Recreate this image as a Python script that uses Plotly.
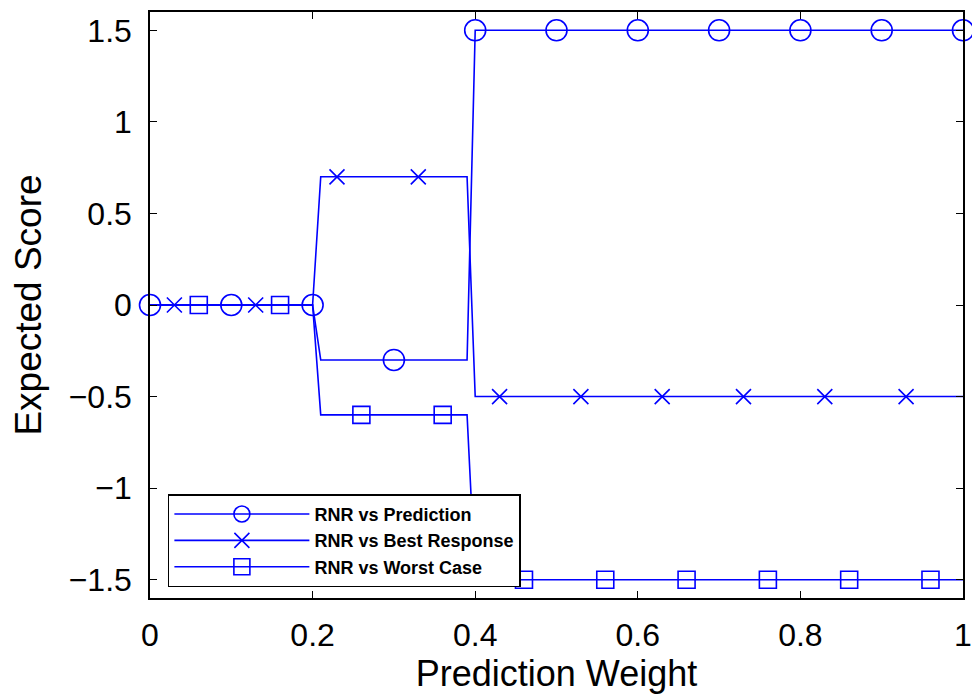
import plotly.graph_objects as go

# Piecewise line data
line_x = [0.0, 0.20, 0.21, 0.39, 0.40, 1.0]
pred_y = [0.0, 0.0, -0.3, -0.3, 1.5, 1.5]
best_y = [0.0, 0.0, 0.7, 0.7, -0.5, -0.5]
worst_y = [0.0, 0.0, -0.6, -0.6, -1.5, -1.5]

# Marker positions
pred_mx = [0.0, 0.1, 0.2, 0.3, 0.4, 0.5, 0.6, 0.7, 0.8, 0.9, 1.0]
pred_my = [0.0, 0.0, 0.0, -0.3, 1.5, 1.5, 1.5, 1.5, 1.5, 1.5, 1.5]
best_mx = [0.03, 0.13, 0.23, 0.33, 0.43, 0.53, 0.63, 0.73, 0.83, 0.93]
best_my = [0.0, 0.0, 0.7, 0.7, -0.5, -0.5, -0.5, -0.5, -0.5, -0.5]
worst_mx = [0.06, 0.16, 0.26, 0.36, 0.46, 0.56, 0.66, 0.76, 0.86, 0.96]
worst_my = [0.0, 0.0, -0.6, -0.6, -1.5, -1.5, -1.5, -1.5, -1.5, -1.5]

names = ["RNR vs Prediction", "RNR vs Best Response", "RNR vs Worst Case"]
x_ticks = [0, 0.2, 0.4, 0.6, 0.8, 1]
x_labels = ["0", "0.2", "0.4", "0.6", "0.8", "1"]
y_ticks = [-1.5, -1, -0.5, 0, 0.5, 1, 1.5]
y_labels = ["\u22121.5", "\u22121", "\u22120.5", "0", "0.5", "1", "1.5"]

BLUE = "rgb(0,0,255)"
FONT = "Liberation Sans, Arial, Helvetica"
series = [
    (pred_y, pred_mx, pred_my, dict(symbol="circle-open", size=21)),
    (best_y, best_mx, best_my, dict(symbol="x-thin-open", size=15)),
    (worst_y, worst_mx, worst_my, dict(symbol="square-open", size=17)),
]

fig = go.Figure()
for (ly, mx, my, mk), nm in zip(series, names):
    fig.add_trace(go.Scatter(x=line_x, y=ly, mode="lines",
                             line=dict(color=BLUE, width=1.6),
                             showlegend=False, hoverinfo="skip"))
    fig.add_trace(go.Scatter(x=mx, y=my, mode="markers",
                             marker=dict(color=BLUE, line=dict(color=BLUE, width=1.6), **mk),
                             showlegend=False, cliponaxis=False))
for (ly, mx, my, mk), nm in zip(series, names):
    fig.add_trace(go.Scatter(x=[None], y=[None], mode="lines+markers", name=nm,
                             line=dict(color=BLUE, width=1.6),
                             marker=dict(color=BLUE, line=dict(color=BLUE, width=1.6), **mk)))

axis_common = dict(showgrid=False, zeroline=False, showline=True, linecolor="black",
                   linewidth=1.5, mirror="ticks", ticks="inside", ticklen=7,
                   tickcolor="black", tickwidth=1.2, automargin=False,
                   tickfont=dict(family=FONT, size=32, color="black"))

fig.update_layout(
    width=972, height=694,
    margin=dict(l=150, r=9, t=12, b=96),
    paper_bgcolor="white", plot_bgcolor="white",
    font=dict(family=FONT, color="black"),
    xaxis=dict(range=[0, 1], tickvals=x_ticks, ticktext=x_labels,
               title=dict(text="Prediction Weight", font=dict(size=36), standoff=4),
               ticklabelstandoff=8,
               **axis_common),
    yaxis=dict(range=[-1.6, 1.6], tickvals=y_ticks, ticktext=y_labels,
               title=dict(text="Expected Score", font=dict(size=37), standoff=16),
               ticklabelstandoff=10,
               **axis_common),
    legend=dict(x=0.022, y=0.177, xanchor="left", yanchor="top",
                bgcolor="white", bordercolor="black", borderwidth=1.5,
                font=dict(family=FONT, size=18, color="black", weight="bold"),
                itemwidth=135, tracegroupgap=0),
)

fig.write_html("out.html")
